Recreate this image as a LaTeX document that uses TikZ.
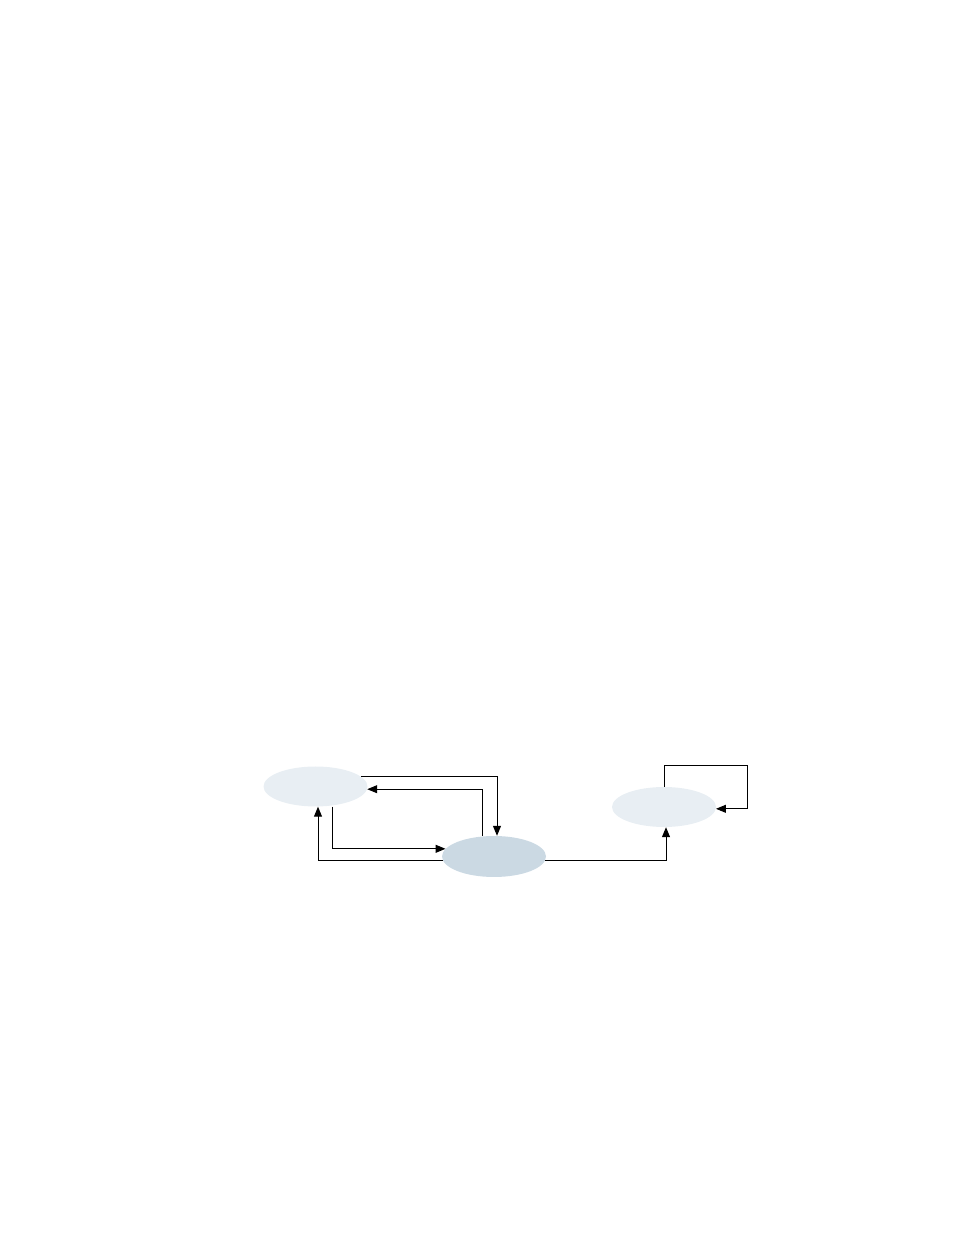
\documentclass[tikz,border=0pt]{standalone}
\usepackage{tikz}
\usetikzlibrary{shapes.geometric,arrows.meta}
\definecolor{statepale}{RGB}{232,238,243}
\definecolor{statedark}{RGB}{203,217,227}
\begin{document}
\begin{tikzpicture}[x=1pt,y=1pt]
  \tikzset{state style/.style = {ellipse, draw=none, inner sep = 0pt, minimum width = 104pt, minimum height = 40pt},
           link style/.style = {line width = 1pt, -{Triangle[length=10pt,width=8pt]}}}
   \useasboundingbox (0,0) rectangle (954,1235);
   \node[state style, fill=statepale] (A) at (315.5,448.5) {};
   \node[state style, fill=statedark, minimum height=41pt] (B) at (494,378.5) {};
   \node[state style, fill=statepale] (C) at (664,428) {};

   \draw[link style] (A.12) -| ([xshift=3pt]B.north);
   \draw[link style] ([xshift=-12pt]B.north) |- (A.-3);
   \draw[link style] ([xshift=16.5pt]A.south) |- (B.171);
   \draw[link style] (B.184) -| ([xshift=2.5pt]A.south);
   \draw[link style] (B.-4) -| ([xshift=2pt]C.south);
   \draw[link style] (C.north) -- ++(0,21) coordinate (Cup) -| ([xshift=32pt]C.-2) -- (C.-2);
\end{tikzpicture}
\end{document}
